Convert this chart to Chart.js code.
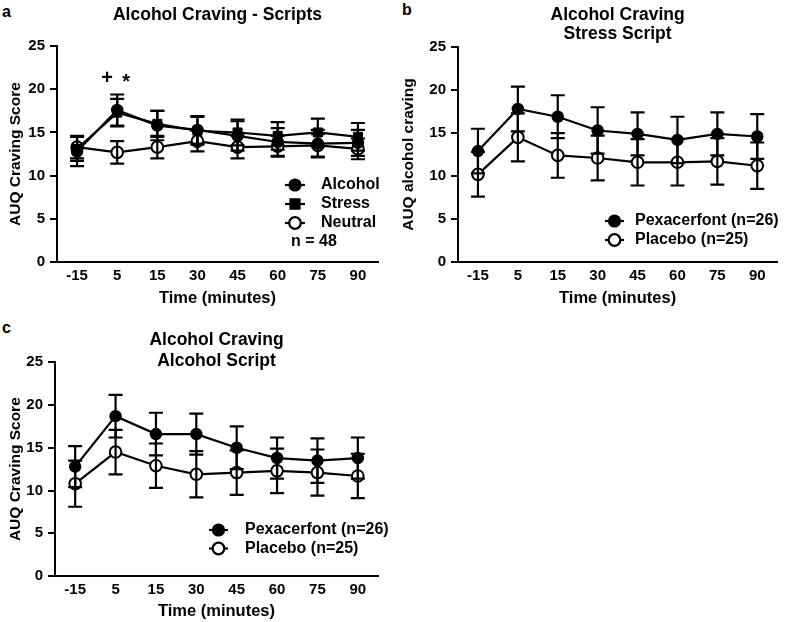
<!DOCTYPE html>
<html>
<head>
<meta charset="utf-8">
<script src="https://cdn.jsdelivr.net/npm/chart.js@4.4.0/dist/chart.umd.min.js"></script>
<style>
    body { margin: 0; background: #fff; width: 785px; height: 622px; position: relative; overflow: hidden; font-family: "Liberation Sans", Arial, sans-serif; }
    canvas { position: absolute; }
    .tag { position: absolute; font-weight: bold; font-size: 16px; line-height: 16px; }
</style>
</head>
<body>
<div class="tag" style="left:2px;top:4px">a</div>
<div class="tag" style="left:402px;top:2px">b</div>
<div class="tag" style="left:2px;top:320px">c</div>
<canvas id="chartA" width="390" height="310" style="left:0;top:0"></canvas>
<canvas id="chartB" width="395" height="310" style="left:390px;top:0"></canvas>
<canvas id="chartC" width="390" height="322" style="left:0;top:300px"></canvas>
<script>
// x categories (minutes relative to script)
const timeLabels = ["-15", "5", "15", "30", "45", "60", "75", "90"];

// panel a: all scripts, n = 48 (mean, SEM)
const alcoholMean = [12.8, 17.6, 15.8, 15.3, 14.6, 13.9, 13.7, 13.8];
const alcoholSem = [1.7, 1.8, 1.7, 1.6, 1.7, 1.6, 1.6, 1.5];
const stressMean = [13.1, 17.3, 16.0, 15.2, 15.0, 14.6, 15.0, 14.5];
const stressSem = [1.4, 1.6, 1.5, 1.6, 1.5, 1.6, 1.6, 1.6];
const neutralMean = [13.3, 12.7, 13.3, 14.0, 13.3, 13.4, 13.5, 13.1];
const neutralSem = [1.3, 1.3, 1.3, 1.2, 1.3, 1.2, 1.3, 1.2];
const sigMarks = ["+", "*"];

// panel b: stress script
const stressPexMean = [12.9, 17.8, 16.9, 15.3, 14.9, 14.2, 14.9, 14.6];
const stressPexSem = [2.6, 2.6, 2.5, 2.7, 2.5, 2.7, 2.5, 2.6];
const stressPlaMean = [10.2, 14.5, 12.4, 12.1, 11.6, 11.6, 11.7, 11.2];
const stressPlaSem = [2.6, 2.8, 2.6, 2.6, 2.7, 2.7, 2.7, 2.7];

// panel c: alcohol script
const alcPexMean = [12.8, 18.7, 16.6, 16.6, 15.0, 13.8, 13.5, 13.8];
const alcPexSem = [2.4, 2.5, 2.5, 2.4, 2.5, 2.4, 2.6, 2.4];
const alcPlaMean = [10.8, 14.5, 12.9, 11.9, 12.1, 12.3, 12.1, 11.7];
const alcPlaSem = [2.7, 2.6, 2.6, 2.7, 2.6, 2.6, 2.7, 2.6];

const FONT = '"Liberation Sans", Arial, sans-serif';

// vertical SEM bars with caps, drawn on top of the markers
const errorBars = {
    id: "errorBars",
    afterDatasetsDraw(chart) {
        const ctx = chart.ctx;
        const y = chart.scales.y;
        chart.data.datasets.forEach((ds, i) => {
            if (!ds.errors) return;
            const meta = chart.getDatasetMeta(i);
            ctx.save();
            ctx.strokeStyle = "#000";
            ctx.lineWidth = 2.2;
            meta.data.forEach((pt, j) => {
                const top = y.getPixelForValue(ds.data[j] + ds.errors[j]);
                const bot = y.getPixelForValue(ds.data[j] - ds.errors[j]);
                ctx.beginPath();
                ctx.moveTo(pt.x, top); ctx.lineTo(pt.x, bot);
                ctx.moveTo(pt.x - 7, top); ctx.lineTo(pt.x + 7, top);
                ctx.moveTo(pt.x - 7, bot); ctx.lineTo(pt.x + 7, bot);
                ctx.stroke();
            });
            ctx.restore();
        });
    }
};

// prism-style legend inside the plot
const panelLegend = {
    id: "panelLegend",
    afterDraw(chart, args, opts) {
        if (!opts.rows) return;
        const ctx = chart.ctx;
        ctx.save();
        ctx.font = "bold 16px " + FONT;
        ctx.textBaseline = "middle";
        opts.rows.forEach((row, k) => {
            const yy = opts.top + k * opts.gap;
            ctx.fillStyle = "#000";
            if (row.text) {
                ctx.fillText(row.text, opts.left + row.dx, yy);
                return;
            }
            const ds = chart.data.datasets[row.dataset];
            ctx.strokeStyle = "#000";
            ctx.lineWidth = 2.2;
            ctx.beginPath();
            ctx.moveTo(opts.left, yy);
            ctx.lineTo(opts.left + opts.lineLen, yy);
            ctx.stroke();
            ctx.fillStyle = ds.pointBackgroundColor;
            Chart.helpers.drawPoint(ctx, {
                pointStyle: ds.pointStyle, rotation: 0,
                radius: ds.pointRadius, borderWidth: ds.pointBorderWidth
            }, opts.left + opts.lineLen / 2, yy);
            ctx.fillStyle = "#000";
            ctx.fillText(ds.label, opts.textLeft, yy);
        });
        ctx.restore();
    }
};

// significance symbols above a time point
const markerText = {
    id: "markerText",
    afterDatasetsDraw(chart, args, opts) {
        if (!opts.items) return;
        const ctx = chart.ctx;
        ctx.save();
        ctx.font = "bold 20px " + FONT;
        ctx.textAlign = "center";
        ctx.textBaseline = "middle";
        ctx.fillStyle = "#000";
        opts.items.forEach(it => {
            const x = chart.scales.x.getPixelForValue(timeLabels.indexOf(it.at)) + it.dx;
            const y = chart.scales.y.getPixelForValue(it.value);
            ctx.fillText(it.text, x, y);
        });
        ctx.restore();
    }
};

function series(label, data, errors, style) {
    return {
        label: label,
        data: data,
        errors: errors,
        borderColor: "#000",
        borderWidth: 2.2,
        tension: 0,
        pointStyle: style.shape,
        pointRadius: style.radius,
        pointBorderWidth: style.border,
        pointBorderColor: "#000",
        pointBackgroundColor: style.fill
    };
}

const filledDot = { shape: "circle", radius: 5.5, border: 1.5, fill: "#000" };
const filledSquare = { shape: "rect", radius: 6.4, border: 1, fill: "#000" };
const openDot = { shape: "circle", radius: 5.8, border: 2, fill: "#fff" };

function makeChart(id, datasets, cfg) {
    return new Chart(document.getElementById(id), {
        type: "line",
        data: { labels: timeLabels, datasets: datasets },
        options: {
            responsive: false,
            animation: false,
            layout: { padding: { left: 0, right: cfg.right, top: 0, bottom: 0 } },
            plugins: {
                legend: { display: false },
                tooltip: { enabled: false },
                title: {
                    display: true,
                    text: cfg.title,
                    fullSize: false,
                    color: "#000",
                    font: { family: FONT, size: 17.5, weight: "bold", lineHeight: cfg.titleLine },
                    padding: cfg.titlePad
                },
                panelLegend: cfg.legend,
                markerText: cfg.marks || {}
            },
            scales: {
                x: {
                    type: "category",
                    offset: true,
                    border: { color: "#000", width: 2 },
                    grid: { drawOnChartArea: false, drawTicks: false },
                    ticks: { color: "#000", padding: 5, maxRotation: 0, font: { family: FONT, size: 15, weight: "bold" } },
                    title: {
                        display: true, text: "Time (minutes)", color: "#000",
                        font: { family: FONT, size: 16.5, weight: "bold" },
                        padding: { top: 0, bottom: cfg.xTitleBottom }
                    },
                    afterFit: s => { s.height = cfg.xHeight; }
                },
                y: {
                    min: 0,
                    max: 25,
                    border: { color: "#000", width: 2 },
                    grid: { drawOnChartArea: false, drawTicks: true, tickLength: 7, color: "#000", lineWidth: 2 },
                    ticks: { stepSize: 5, color: "#000", padding: 5, font: { family: FONT, size: 15, weight: "bold" } },
                    title: {
                        display: true, text: cfg.yTitle, color: "#000",
                        font: { family: FONT, size: 15.5, weight: "bold" },
                        padding: { top: cfg.yTitleTop, bottom: 0 }
                    },
                    afterFit: s => { s.width = cfg.yWidth; }
                }
            }
        },
        plugins: [errorBars, panelLegend, markerText]
    });
}

makeChart("chartA", [
    series("Alcohol", alcoholMean, alcoholSem, filledDot),
    series("Stress", stressMean, stressSem, filledSquare),
    series("Neutral", neutralMean, neutralSem, openDot)
], {
    title: "Alcohol Craving - Scripts",
    titleLine: 1.15,
    titlePad: { top: 5, bottom: 21 },
    right: 12,
    yWidth: 57,
    yTitle: "AUQ Craving Score",
    yTitleTop: 6,
    xHeight: 48,
    xTitleBottom: 2,
    legend: {
        left: 285, lineLen: 20, textLeft: 321, top: 185, gap: 19,
        rows: [{ dataset: 0 }, { dataset: 1 }, { dataset: 2 }, { text: "n = 48", dx: 6 }]
    },
    marks: {
        items: [
            { text: sigMarks[0], at: "5", value: 21.2, dx: -10 },
            { text: sigMarks[1], at: "5", value: 20.8, dx: 9 }
        ]
    }
});

makeChart("chartB", [
    series("Pexacerfont (n=26)", stressPexMean, stressPexSem, filledDot),
    series("Placebo (n=25)", stressPlaMean, stressPlaSem, openDot)
], {
    title: ["Alcohol Craving", "Stress Script"],
    titleLine: 1.06,
    titlePad: { top: 6, bottom: 4 },
    right: 7,
    yWidth: 68,
    yTitle: "AUQ alcohol craving",
    yTitleTop: 9,
    xHeight: 48,
    xTitleBottom: 2,
    legend: {
        left: 215, lineLen: 19, textLeft: 245, top: 221, gap: 19,
        rows: [{ dataset: 0 }, { dataset: 1 }]
    }
});

makeChart("chartC", [
    series("Pexacerfont (n=26)", alcPexMean, alcPexSem, filledDot),
    series("Placebo (n=25)", alcPlaMean, alcPlaSem, openDot)
], {
    title: ["Alcohol Craving", "Alcohol Script"],
    titleLine: 1.18,
    titlePad: { top: 30, bottom: -9 },
    right: 12,
    yWidth: 55,
    yTitle: "AUQ Craving Score",
    yTitleTop: 6,
    xHeight: 46,
    xTitleBottom: 1,
    legend: {
        left: 209, lineLen: 19, textLeft: 245, top: 230, gap: 18.5,
        rows: [{ dataset: 0 }, { dataset: 1 }]
    }
});
</script>
</body>
</html>
